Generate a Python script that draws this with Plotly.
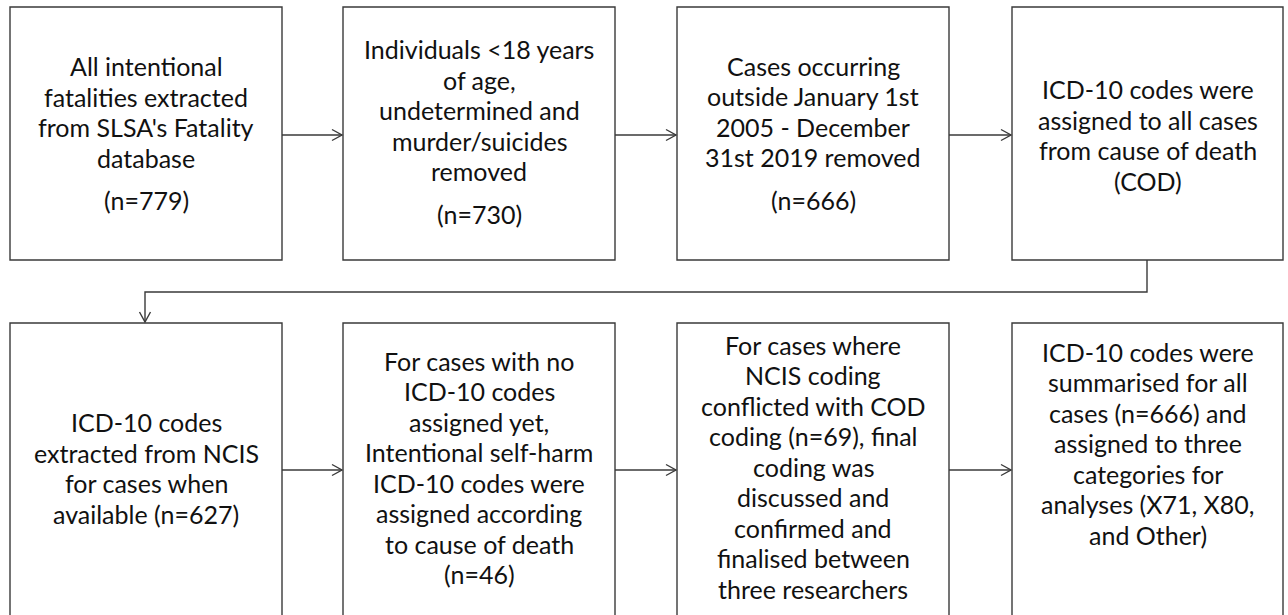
import plotly.graph_objects as go

# ---- data ----
box_texts = [
    ["All intentional", "fatalities extracted", "from SLSA's Fatality", "database"],
    ["Individuals <18 years", "of age,", "undetermined and", "murder/suicides", "removed"],
    ["Cases occurring", "outside January 1st", "2005 - December", "31st 2019 removed"],
    ["ICD-10 codes were", "assigned to all cases", "from cause of death", "(COD)"],
    ["ICD-10 codes", "extracted from NCIS", "for cases when", "available (n=627)"],
    ["For cases with no", "ICD-10 codes", "assigned yet,", "Intentional self-harm",
     "ICD-10 codes were", "assigned according", "to cause of death", "(n=46)"],
    ["For cases where", "NCIS coding", "conflicted with COD", "coding (n=69), final",
     "coding was", "discussed and", "confirmed and", "finalised between", "three researchers"],
    ["ICD-10 codes were", "summarised for all", "cases (n=666) and", "assigned to three",
     "categories for", "analyses (X71, X80,", "and Other)"],
]
box_counts = ["(n=779)", "(n=730)", "(n=666)", None, None, None, None, None]

# ---- layout geometry (page pixel coordinates) ----
W, H = 1288, 615
col_x = [(10, 282), (343, 615), (677, 949), (1012, 1283)]
row_y = [(7, 260), (323, 625)]
text_center = [133, 131.5, 132.5, 135, 468, 467.5, 466.5, 443]
line_gap = 30.5
count_extra = 12
font_family = "Lato, 'Open Sans', sans-serif"
font_size = 25
line_color = "#3a3a3a"
text_color = "#111111"
lw = 1.4

fig = go.Figure()
shapes = []
annotations = []

for i, lines in enumerate(box_texts):
    r, c = divmod(i, 4)
    x0, x1 = col_x[c]
    y0, y1 = row_y[r]
    shapes.append(dict(type="rect", x0=x0, x1=x1, y0=y0, y1=y1,
                       line=dict(color=line_color, width=lw), fillcolor="white", layer="below"))
    items = [(t, 0) for t in lines]
    if box_counts[i]:
        items.append((box_counts[i], count_extra))
    offsets = []
    pos = 0.0
    for k, (t, extra) in enumerate(items):
        if k > 0:
            pos += line_gap + extra
        offsets.append(pos)
    mid = (offsets[0] + offsets[-1]) / 2
    cx = (x0 + x1) / 2
    for (t, _), off in zip(items, offsets):
        annotations.append(dict(x=cx, y=text_center[i] + off - mid, text=t, showarrow=False,
                                xanchor="center", yanchor="middle",
                                font=dict(family=font_family, size=font_size, color=text_color)))

def harrow(xa, xb, y):
    shapes.append(dict(type="line", x0=xa, x1=xb, y0=y, y1=y, line=dict(color=line_color, width=lw)))
    shapes.append(dict(type="path", path=f"M {xb-10},{y-5.5} L {xb},{y} L {xb-10},{y+5.5}",
                       line=dict(color=line_color, width=lw)))

arrow_y = [135, 470]
for r in range(2):
    for c in range(3):
        harrow(col_x[c][1], col_x[c + 1][0] - 1, arrow_y[r])

# connector from box 4 to box 5
bx = 1147
tx = 145
ymid = 292
shapes.append(dict(type="path",
                   path=f"M {bx},{row_y[0][1]} L {bx},{ymid} L {tx},{ymid} L {tx},{row_y[1][0]-1}",
                   line=dict(color=line_color, width=lw)))
yt = row_y[1][0] - 1
shapes.append(dict(type="path", path=f"M {tx-5.5},{yt-10} L {tx},{yt} L {tx+5.5},{yt-10}",
                   line=dict(color=line_color, width=lw)))

fig.update_layout(
    width=W, height=H, margin=dict(l=0, r=0, t=0, b=0),
    paper_bgcolor="white", plot_bgcolor="white",
    xaxis=dict(range=[0, W], visible=False, fixedrange=True),
    yaxis=dict(range=[H, 0], visible=False, fixedrange=True),
    shapes=shapes, annotations=annotations, showlegend=False,
)
fig.write_html(
    "out.html",
    config={"displayModeBar": False},
    post_script="document.body.style.margin='0';document.body.style.overflow='hidden';",
)
